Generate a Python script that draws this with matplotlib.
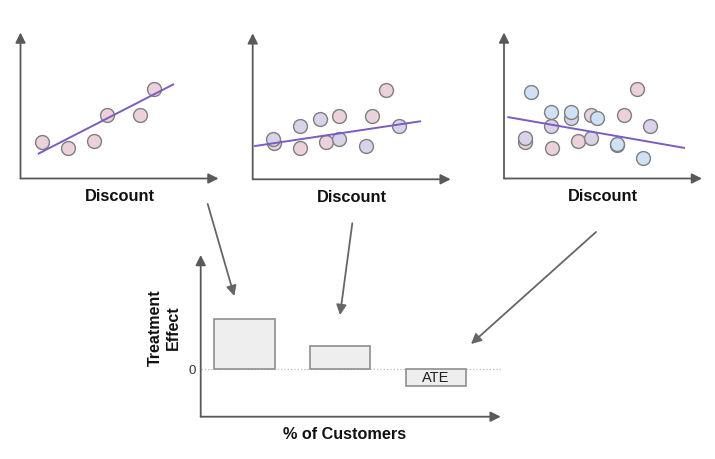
import matplotlib.pyplot as plt

plt.rcParams['font.family'] = ['Liberation Sans', 'DejaVu Sans']

# points shared by the three scatter panels (x, y in a 0-10 box)
pink_x = [1.07, 2.40, 3.72, 4.38, 6.05, 6.73]
pink_y = [2.52, 2.12, 2.55, 4.34, 4.34, 6.15]
purple_x = [1.05, 2.38, 3.39, 4.38, 5.70, 7.38]
purple_y = [2.79, 3.63, 4.11, 2.74, 2.31, 3.63]
blue_x = [1.36, 2.37, 3.37, 4.68, 5.69, 7.00]
blue_y = [5.91, 4.57, 4.57, 4.11, 2.33, 1.42]

# fitted lines per panel: (x0, x1), (y0, y1)
fit_x = [(0.92, 7.71), (0.12, 8.45), (0.22, 9.09)]
fit_y = [(1.71, 6.44), (2.28, 3.97), (4.20, 2.10)]

# bottom chart
bar_pos = [0, 1, 2]
bar_vals = [5.0, 2.3, -1.7]
bar_labels = ['', '', 'ATE']

PINK = '#ead1dc'
PURPLE = '#d9d2e9'
BLUE = '#cfe2f3'
LINE = '#7b5cc0'
AXC = '#595959'

W, H = 715, 459
fig = plt.figure(figsize=(W / 100, H / 100), dpi=100)


def box(left, bottom_px, width, height):
    # pixel box (top-left origin) -> figure fraction
    return [left / W, 1 - bottom_px / H, width / W, height / H]


def draw_axes_arrows(ax):
    for end in [(0, 1), (1, 0)]:
        ax.annotate('', xy=end, xytext=(0, 0), xycoords='axes fraction',
                    arrowprops=dict(arrowstyle='-|>,head_length=0.6,head_width=0.3',
                                    mutation_scale=10, lw=1.3, color=AXC,
                                    shrinkA=0, shrinkB=0))
    for s in ax.spines.values():
        s.set_visible(False)
    ax.set_xticks([])
    ax.set_yticks([])


groups = [
    [(pink_x, pink_y, PINK)],
    [(pink_x, pink_y, PINK), (purple_x, purple_y, PURPLE)],
    [(pink_x, pink_y, PINK), (purple_x, purple_y, PURPLE), (blue_x, blue_y, BLUE)],
]
origins = [(20.5, 178.5), (252.7, 179.3), (504, 178.5)]

for i, (ox, oy) in enumerate(origins):
    ax = fig.add_axes(box(ox, oy, 198, 146))
    ax.set_xlim(0, 10)
    ax.set_ylim(0, 10)
    for gx, gy, col in groups[i]:
        ax.scatter(gx, gy, s=100, c=col, edgecolors='#7f7f7f', linewidths=1, zorder=3)
    ax.plot(fit_x[i], fit_y[i], color=LINE, lw=1.4, zorder=4)
    draw_axes_arrows(ax)
    ax.text(0.5, -0.125, 'Discount', transform=ax.transAxes, ha='center', va='center',
            fontsize=11.8, fontweight='bold', color='#111111')

# bottom treatment effect chart
bx = fig.add_axes(box(200.7, 416.7, 300, 161.7))
bx.bar(bar_pos, bar_vals, width=0.63, color='#eeeeee', edgecolor='#8f8f8f', lw=1.2, zorder=3)
for p, v, lab in zip(bar_pos, bar_vals, bar_labels):
    if lab:
        bx.text(p, v / 2, lab, ha='center', va='center', fontsize=10.5, color='#222222', zorder=4)
bx.set_xlim(-0.458, 2.68)
bx.set_ylim(-4.77, 11.4)
bx.axhline(0, color='#bbbbbb', lw=0.9, ls=':', zorder=1)
draw_axes_arrows(bx)
bx.set_yticks([0])
bx.set_yticklabels(['0'], fontsize=9.5, color='#333333')
bx.tick_params(axis='y', length=0, pad=3.5)
bx.text(-0.12, 0.549, 'Treatment\nEffect', transform=bx.transAxes, rotation=90,
        ha='center', va='center', multialignment='center', fontsize=11.5,
        fontweight='bold', color='#111111', linespacing=1.25)
bx.text(0.481, -0.113, '% of Customers', transform=bx.transAxes, ha='center', va='center',
        fontsize=11.7, fontweight='bold', color='#111111')

# connector arrows from the panels down to the bars
connectors = [((207.7, 255), (234.3, 163)),
              ((352.3, 235.7), (340, 144)),
              ((596, 227), (471, 115))]
for start, tip in connectors:
    fig.add_artist(plt.Annotation('', xy=tip, xytext=start, xycoords='figure pixels',
                                  arrowprops=dict(arrowstyle='-|>,head_length=0.6,head_width=0.3',
                                                  mutation_scale=10, lw=1.3, color='#666666',
                                                  shrinkA=0, shrinkB=0)))

fig.savefig('out.png', dpi=100)
